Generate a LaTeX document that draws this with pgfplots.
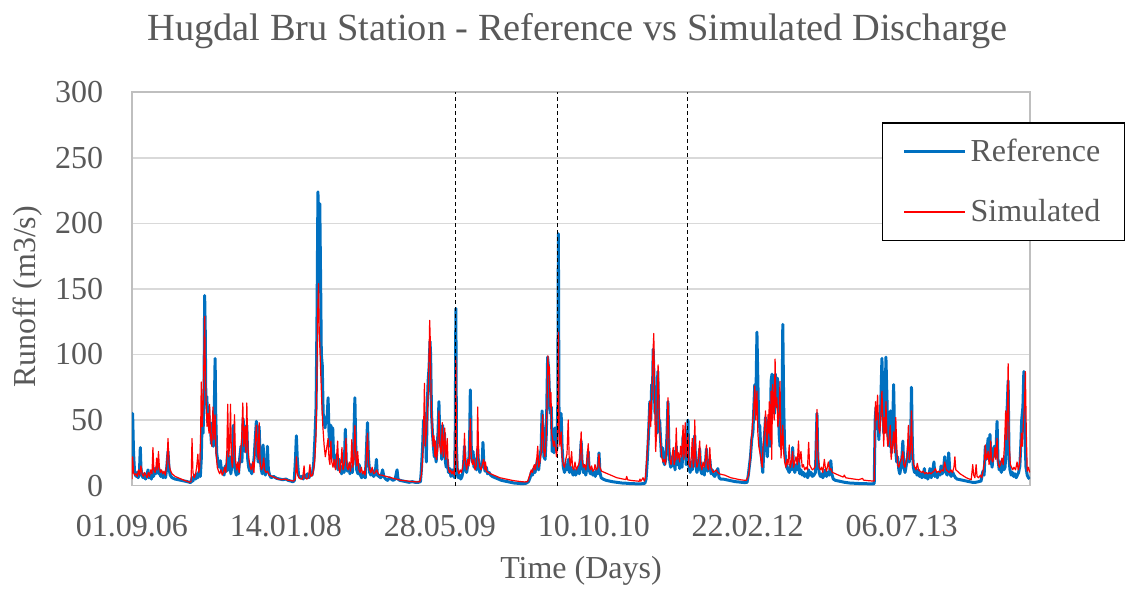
\documentclass[border=0pt]{standalone}
\usepackage{fontspec}
\setmainfont{Liberation Serif}
\usepackage{pgfplots}
\pgfplotsset{compat=1.18}
\definecolor{refblue}{HTML}{0070C0}
\definecolor{simred}{HTML}{FF0000}
\definecolor{textgray}{HTML}{595959}
\definecolor{gridgray}{HTML}{D9D9D9}
\definecolor{axisgray}{HTML}{BFBFBF}
\begin{document}
\begin{tikzpicture}
\useasboundingbox (0,0) rectangle (563pt,295pt);
\begin{axis}[
  at={(66pt,52.2pt)}, anchor=south west,
  scale only axis, width=449pt, height=196.7pt,
  xmin=0, xmax=2917, ymin=0, ymax=300,
  xtick={0,500,1000,1500,2000,2500},
  xticklabels={01.09.06,14.01.08,28.05.09,10.10.10,22.02.12,06.07.13},
  ytick={0,50,...,300},
  ymajorgrids, major grid style={gridgray, line width=0.75pt},
  axis line style={axisgray, line width=0.75pt},
  tick style={draw=none},
  /pgf/number format/assume math mode=true,
  ticklabel style={font=\fontsize{16}{19}\selectfont, text=textgray},
  xticklabel style={inner sep=0pt, yshift=-14.5pt},
  yticklabel style={inner sep=0pt, xshift=-14.2pt},
  title={Hugdal Bru Station - Reference vs Simulated Discharge},
  title style={at={(axis description cs:0.5,1)}, anchor=base, yshift=20pt, xshift=-1.75pt, font=\fontsize{19.2}{23}\selectfont, text=textgray},
  xlabel={Time (Days)},
  xlabel style={at={(axis description cs:0.5,0)}, anchor=base, yshift=-46.5pt, font=\fontsize{16}{19}\selectfont, text=textgray},
  ylabel={Runoff (m3/s)},
  ylabel style={at={(axis description cs:-0.108,0.48)}, anchor=base, font=\fontsize{16}{19}\selectfont, text=textgray},
  legend style={at={(0.835,0.924)}, anchor=north west, draw=black, line width=0.75pt, fill=white,
    font=\fontsize{16}{19}\selectfont, text=textgray, inner xsep=10pt, inner ysep=6pt, row sep=13.5pt},
  legend cell align=left,
  legend image code/.code={\path (0pt,0pt) -- (4.5pt,0pt); \draw[#1, line cap=butt] (4.5pt,0pt) -- (30.5pt,0pt);},
]
\addplot[refblue, line width=1.5pt, line join=round] coordinates {
(0,22)(2,55)(5,25)(8,12)(11,8)(14,7)(17,10)(20,6)(24,9)(27,29)(29,14)(32,8)(36,6)(40,9)(44,5)(48,7)(52,12)(55,6)(59,8)(63,5)(67,11)(70,7)(74,13)(77,9)(80,12)(84,16)(87,9)(90,12)(93,7)(97,10)(101,6)(105,9)(109,6)(113,14)(117,26)(120,14)(124,8)(130,6)(140,5)(150,4.5)(160,4)(170,3.5)(180,3)(187,2.5)(192,2.5)(195,6)(198,3.5)(203,8)(207,5)(211,9)(214,6)(218,11)(222,7)(225,20)(228,52)(231,40)(234,75)(236,145)(238,118)(240,62)(243,68)(246,48)(249,60)(252,42)(255,44)(258,32)(261,48)(264,30)(267,55)(270,97)(272,55)(275,25)(279,18)(283,14)(287,19)(291,11)(295,13)(299,8)(303,15)(307,11)(311,26)(314,12)(318,22)(321,9)(325,16)(329,46)(332,22)(335,12)(339,8)(343,14)(346,9)(350,21)(354,30)(357,18)(361,51)(364,40)(367,26)(370,33)(373,46)(376,20)(379,14)(383,11)(386,16)(389,9)(393,13)(397,22)(400,34)(404,49)(407,25)(410,18)(413,45)(416,22)(420,12)(423,9)(426,31)(429,14)(433,8)(437,12)(440,30)(443,12)(447,8)(452,6)(460,7)(470,5.5)(480,5)(490,4.5)(500,5)(507,4)(515,3.5)(522,3)(527,3.5)(531,20)(534,38)(537,20)(541,8)(546,6)(551,7)(556,5)(560,8)(565,6)(570,9)(575,6)(580,10)(585,8)(590,16)(594,35)(598,60)(601,130)(604,224)(607,190)(610,215)(613,150)(615,100)(618,92)(621,55)(624,50)(627,44)(630,52)(633,48)(637,67)(640,40)(643,30)(646,46)(649,26)(652,44)(655,22)(658,18)(662,14)(666,24)(669,12)(673,20)(677,13)(681,9)(685,15)(689,10)(693,43)(696,18)(700,11)(704,16)(708,9)(712,14)(716,10)(720,30)(724,67)(727,28)(730,12)(734,9)(738,16)(742,8)(746,6)(750,9)(754,7)(758,6)(762,30)(765,48)(768,22)(772,10)(776,8)(780,12)(785,7)(790,9)(794,20)(797,8)(802,7)(808,6)(814,12)(818,7)(824,5)(830,4)(836,6)(842,5)(848,4)(855,5)(861,12)(864,5)(870,4)(880,3.5)(890,3)(900,2.5)(910,3)(920,2.5)(930,2.5)(937,3)(940,12)(944,30)(947,50)(950,40)(953,55)(956,18)(959,60)(962,80)(965,90)(968,110)(970,100)(973,55)(976,40)(979,30)(982,22)(985,26)(988,18)(991,30)(994,40)(997,64)(1000,35)(1003,40)(1006,20)(1009,46)(1012,22)(1015,40)(1018,18)(1021,14)(1024,20)(1028,10)(1032,13)(1036,7)(1040,12)(1044,8)(1048,6)(1050,40)(1052,135)(1054,30)(1057,10)(1060,6)(1064,8)(1068,5)(1072,7)(1076,12)(1080,30)(1083,14)(1087,10)(1091,16)(1095,22)(1097,40)(1099,73)(1102,30)(1105,18)(1108,26)(1111,14)(1115,20)(1119,12)(1123,28)(1126,15)(1130,10)(1134,14)(1138,20)(1140,33)(1143,16)(1147,11)(1151,14)(1155,9)(1160,10)(1165,8)(1170,7)(1180,6)(1190,5)(1200,4)(1210,3.5)(1220,3)(1230,2.5)(1240,2)(1250,1.8)(1260,1.6)(1270,1.5)(1280,1.8)(1288,3)(1293,6)(1297,10)(1301,8)(1305,13)(1309,10)(1313,14)(1317,20)(1321,12)(1325,22)(1329,28)(1332,57)(1335,45)(1338,22)(1342,20)(1346,40)(1350,98)(1353,90)(1356,70)(1359,55)(1362,60)(1365,26)(1368,36)(1371,25)(1374,44)(1377,30)(1380,28)(1383,60)(1385,192)(1387,60)(1390,40)(1394,55)(1397,30)(1401,14)(1405,10)(1409,16)(1413,12)(1417,20)(1421,10)(1425,14)(1429,11)(1433,8)(1437,12)(1441,8)(1445,10)(1449,14)(1453,9)(1456,20)(1459,34)(1462,18)(1466,10)(1470,13)(1474,8)(1478,14)(1482,26)(1485,12)(1489,9)(1493,12)(1497,8)(1501,10)(1505,7)(1509,12)(1513,9)(1517,25)(1520,10)(1524,6)(1530,5)(1540,4)(1550,3.5)(1560,3)(1575,2.5)(1590,2)(1605,1.8)(1620,1.5)(1635,1.4)(1650,1.3)(1660,1.5)(1666,1.8)(1670,5)(1674,20)(1678,40)(1682,64)(1685,50)(1688,77)(1691,75)(1693,104)(1696,80)(1699,55)(1702,62)(1705,40)(1708,87)(1711,50)(1714,50)(1717,35)(1720,22)(1723,29)(1727,18)(1730,16)(1734,20)(1738,40)(1741,64)(1744,30)(1747,18)(1750,14)(1754,22)(1757,15)(1761,26)(1764,12)(1768,30)(1771,16)(1775,24)(1779,13)(1783,20)(1787,14)(1790,38)(1793,22)(1797,38)(1800,16)(1803,22)(1806,50)(1809,15)(1813,10)(1817,18)(1820,12)(1824,22)(1828,38)(1831,16)(1835,10)(1839,14)(1844,28)(1847,12)(1851,9)(1855,13)(1859,8)(1863,18)(1866,28)(1870,11)(1874,16)(1877,20)(1881,9)(1885,12)(1889,8)(1893,7)(1897,9)(1903,13)(1907,6)(1912,5)(1920,5)(1930,4.5)(1940,4)(1950,3.5)(1960,3)(1970,2.8)(1980,2.5)(1990,2.3)(1998,2.5)(2002,8)(2005,14)(2009,22)(2013,35)(2017,41)(2020,60)(2023,77)(2026,55)(2030,117)(2033,80)(2036,45)(2039,46)(2042,30)(2046,18)(2049,10)(2052,25)(2055,40)(2058,52)(2061,30)(2064,22)(2067,50)(2070,40)(2073,30)(2076,80)(2079,85)(2081,80)(2084,60)(2087,55)(2090,85)(2093,60)(2096,82)(2099,78)(2102,40)(2105,30)(2108,55)(2111,40)(2114,123)(2117,60)(2120,30)(2123,20)(2127,14)(2131,12)(2135,10)(2139,16)(2143,12)(2146,29)(2149,14)(2153,10)(2157,16)(2161,12)(2165,20)(2169,9)(2173,12)(2177,8)(2181,10)(2185,7)(2190,9)(2195,6)(2198,12)(2202,8)(2206,10)(2210,7)(2215,8)(2220,10)(2225,55)(2228,20)(2232,10)(2236,7)(2240,9)(2244,6)(2248,8)(2252,12)(2256,7)(2260,10)(2265,8)(2270,19)(2273,9)(2278,5)(2285,4)(2295,3.5)(2305,3)(2315,2.5)(2330,2)(2345,1.8)(2360,1.6)(2375,1.5)(2390,1.4)(2405,1.3)(2411,1.5)(2414,50)(2417,60)(2420,45)(2423,55)(2426,35)(2429,50)(2432,60)(2436,97)(2439,70)(2442,40)(2446,55)(2449,98)(2452,70)(2455,40)(2458,35)(2461,30)(2464,57)(2467,25)(2470,35)(2474,77)(2477,40)(2480,30)(2484,18)(2487,22)(2491,12)(2494,9)(2498,14)(2501,22)(2504,34)(2507,15)(2511,10)(2514,14)(2518,20)(2522,30)(2525,18)(2529,28)(2532,75)(2535,30)(2538,14)(2542,10)(2546,12)(2550,8)(2554,12)(2558,7)(2562,9)(2566,6)(2570,8)(2574,13)(2577,6)(2581,9)(2585,5)(2589,8)(2592,13)(2596,6)(2600,9)(2605,18)(2608,7)(2612,9)(2616,6)(2620,10)(2625,8)(2628,15)(2632,9)(2636,12)(2640,22)(2644,10)(2648,8)(2653,25)(2657,9)(2661,7)(2666,10)(2670,8)(2675,6)(2680,5)(2690,4.5)(2700,4)(2710,3.5)(2720,3)(2730,2.5)(2740,2.5)(2750,3)(2758,3.5)(2764,11)(2768,8)(2772,30)(2775,20)(2778,28)(2781,36)(2784,22)(2787,39)(2790,20)(2794,14)(2798,28)(2802,30)(2806,22)(2810,49)(2813,20)(2817,12)(2820,18)(2824,10)(2828,20)(2832,12)(2836,14)(2840,30)(2843,60)(2846,80)(2849,20)(2852,12)(2856,8)(2860,10)(2864,7)(2868,9)(2872,6)(2876,8)(2880,10)(2884,15)(2887,30)(2890,50)(2894,60)(2897,87)(2900,40)(2904,14)(2908,8)(2912,6)(2916,5)
};
\addlegendentry{Reference}
\addplot[simred, line width=0.6pt, line join=round] coordinates {
(0,5)(2,22)(5,10)(9,8)(13,9)(17,7)(21,12)(25,8)(29,15)(33,9)(37,7)(41,10)(45,8)(49,6)(53,10)(57,7)(61,12)(65,9)(68,29)(71,12)(75,10)(78,14)(80,21)(83,12)(86,26)(89,14)(92,10)(96,12)(100,9)(104,11)(108,8)(112,14)(115,25)(117,36)(120,18)(124,12)(130,9)(140,7)(150,6)(160,5)(170,4)(180,3.2)(187,2.6)(192,3)(195,36)(198,10)(202,6)(206,8)(210,14)(214,24)(217,10)(220,14)(223,40)(225,79)(228,45)(231,60)(234,100)(236,129)(238,90)(241,62)(244,45)(247,55)(250,40)(252,62)(255,38)(259,30)(263,60)(266,35)(270,54)(273,25)(277,14)(281,11)(285,9)(289,12)(293,8)(297,10)(301,14)(305,10)(308,25)(311,62)(314,22)(317,30)(320,62)(323,20)(326,14)(330,28)(333,54)(336,20)(340,12)(344,18)(348,10)(352,22)(356,35)(360,63)(363,30)(367,45)(370,25)(373,63)(376,30)(380,20)(384,14)(388,12)(392,18)(396,10)(400,31)(404,46)(407,30)(410,20)(413,48)(416,18)(420,12)(424,14)(428,21)(431,12)(435,10)(440,11)(446,8)(455,7)(465,6)(475,5)(485,4.5)(495,5)(505,4.2)(515,3.8)(525,3.5)(531,5)(534,22)(537,10)(542,6)(548,5)(554,5)(559,15)(562,6)(568,5)(573,6)(578,16)(581,7)(586,8)(590,12)(594,20)(598,40)(601,90)(603,130)(606,154)(608,120)(611,100)(614,80)(617,60)(620,45)(624,31)(628,22)(632,28)(637,36)(640,20)(643,16)(646,34)(649,18)(653,14)(657,20)(661,12)(664,20)(668,34)(671,14)(675,10)(679,18)(682,29)(685,12)(689,16)(692,20)(695,36)(698,14)(702,12)(706,18)(710,11)(714,35)(717,14)(721,20)(724,46)(727,22)(730,15)(733,26)(737,12)(741,10)(745,14)(749,9)(753,11)(757,8)(761,20)(765,40)(768,18)(772,12)(776,10)(780,14)(785,9)(790,10)(795,12)(800,9)(806,8)(812,8)(818,7.5)(826,7)(834,6.5)(842,6)(850,5.5)(858,5)(866,4.5)(875,4)(885,3.8)(895,3.5)(905,3.2)(915,3)(925,2.8)(935,3)(940,8)(944,20)(947,40)(950,78)(953,30)(956,40)(959,50)(962,70)(965,100)(967,126)(969,110)(972,60)(975,45)(978,30)(981,38)(984,22)(986,34)(989,20)(993,28)(997,57)(1000,30)(1004,24)(1008,48)(1011,22)(1014,30)(1016,44)(1019,20)(1022,28)(1024,36)(1027,14)(1031,10)(1035,12)(1039,9)(1043,11)(1047,8)(1050,30)(1052,98)(1054,25)(1058,12)(1062,9)(1066,12)(1070,10)(1074,14)(1078,20)(1080,40)(1083,18)(1087,12)(1091,20)(1095,15)(1099,51)(1102,22)(1106,16)(1110,20)(1114,12)(1118,15)(1121,30)(1123,60)(1126,20)(1130,14)(1134,12)(1138,16)(1142,20)(1146,12)(1148,18)(1152,11)(1158,10)(1165,9)(1175,8)(1185,7)(1195,6)(1205,5.5)(1215,5)(1225,4.5)(1235,4)(1245,3.6)(1255,3.3)(1265,3)(1275,2.8)(1285,3)(1292,8)(1297,12)(1301,10)(1304,14)(1307,16)(1310,12)(1314,18)(1318,30)(1321,14)(1325,18)(1329,25)(1332,45)(1334,54)(1337,28)(1341,22)(1345,35)(1348,60)(1351,99)(1353,85)(1355,91)(1358,60)(1361,71)(1363,40)(1366,36)(1369,30)(1372,34)(1376,28)(1379,22)(1382,30)(1385,117)(1387,45)(1390,30)(1394,41)(1397,22)(1401,16)(1405,14)(1409,20)(1413,24)(1417,50)(1420,22)(1424,15)(1428,26)(1431,14)(1435,12)(1439,18)(1443,12)(1447,14)(1451,16)(1455,20)(1459,41)(1462,20)(1466,14)(1470,16)(1474,12)(1478,20)(1482,32)(1485,16)(1489,12)(1493,15)(1497,11)(1501,12)(1504,16)(1508,12)(1513,14)(1517,24)(1520,14)(1525,11)(1535,10)(1545,9)(1555,8)(1565,7)(1575,6)(1585,5.5)(1595,5)(1604,4.6)(1607,7)(1610,4.4)(1620,4)(1630,3.7)(1640,3.5)(1648,3.3)(1650,5)(1653,3.3)(1660,6)(1664,3.5)(1668,6)(1672,20)(1676,35)(1679,50)(1682,64)(1685,45)(1687,59)(1690,80)(1692,100)(1695,116)(1698,60)(1701,26)(1704,40)(1707,70)(1709,92)(1712,60)(1715,40)(1718,30)(1721,22)(1725,18)(1729,20)(1733,16)(1737,30)(1739,50)(1741,67)(1744,35)(1747,20)(1751,16)(1754,22)(1758,29)(1761,16)(1765,20)(1768,44)(1771,20)(1775,25)(1779,18)(1782,30)(1786,22)(1790,46)(1793,20)(1797,48)(1800,22)(1803,28)(1806,39)(1809,16)(1813,14)(1817,22)(1820,36)(1823,14)(1826,20)(1828,50)(1831,22)(1835,14)(1839,18)(1844,34)(1847,16)(1851,12)(1855,18)(1859,14)(1863,20)(1866,31)(1869,14)(1873,12)(1877,29)(1880,14)(1884,12)(1888,10)(1893,11)(1898,12)(1903,10)(1908,9)(1915,8.5)(1925,8)(1935,7)(1945,6)(1955,5.5)(1965,5)(1975,4.5)(1985,4.2)(1995,4)(2000,6)(2004,10)(2008,20)(2012,35)(2015,45)(2017,51)(2020,60)(2023,76)(2026,50)(2030,72)(2033,40)(2036,30)(2039,26)(2043,20)(2047,14)(2050,30)(2054,40)(2058,57)(2061,35)(2063,30)(2066,54)(2068,40)(2070,64)(2073,35)(2076,72)(2078,20)(2081,77)(2084,60)(2086,50)(2089,96.5)(2092,60)(2095,67)(2098,45)(2102,55)(2105,79.5)(2108,21)(2111,30)(2114,46)(2117,25)(2120,18)(2124,14)(2128,20)(2131,16)(2135,31)(2138,14)(2142,18)(2146,26)(2149,14)(2153,18)(2157,22)(2161,16)(2165,34)(2168,18)(2173,26)(2177,14)(2181,16)(2185,12)(2190,14)(2194,12)(2198,33)(2201,16)(2205,14)(2210,12)(2215,13)(2220,15)(2225,58)(2228,25)(2232,14)(2236,12)(2240,14)(2244,10)(2249,20)(2252,14)(2256,11)(2262,18)(2266,12)(2270,13)(2275,10)(2281,9.5)(2290,8.5)(2300,7.5)(2310,6.5)(2314,8)(2318,6)(2330,5.5)(2345,5)(2360,4.5)(2373,5.5)(2376,4.2)(2390,3.8)(2405,3.5)(2411,3.5)(2413,40)(2415,64)(2418,50)(2422,69)(2425,45)(2429,40)(2433,55)(2436,72)(2439,50)(2442,30)(2444,52)(2447,40)(2449,64)(2452,40)(2455,30)(2459,35)(2463,46)(2466,20)(2470,30)(2474,41)(2477,25)(2481,52)(2484,30)(2487,16)(2491,14)(2495,18)(2499,20)(2504,26)(2507,16)(2511,14)(2514,18)(2518,22)(2522,46)(2525,20)(2529,28)(2532,57)(2535,22)(2539,16)(2543,14)(2547,12)(2551,17)(2555,12)(2560,11)(2565,10)(2570,11)(2575,9)(2580,10)(2585,9)(2590,10)(2595,9)(2600,10)(2605,11)(2610,13)(2614,10)(2620,11)(2625,10)(2630,12)(2635,11)(2640,18)(2645,12)(2650,11)(2655,10)(2660,12)(2665,10)(2670,14)(2673,22)(2676,12)(2681,11)(2690,9)(2700,7.5)(2710,6)(2720,5)(2726,4.5)(2731,16)(2734,8)(2738,6)(2742,16)(2745,7)(2750,6)(2756,8)(2760,6)(2765,12)(2769,18)(2772,31)(2775,20)(2778,22)(2781,26)(2784,16)(2787,22)(2789,34)(2792,20)(2796,18)(2800,22)(2803,29)(2806,20)(2810,36)(2813,18)(2817,14)(2821,16)(2826,21)(2830,16)(2834,30)(2838,57)(2841,35)(2844,60)(2846,93)(2849,35)(2853,16)(2857,14)(2861,12)(2865,14)(2870,12)(2875,18)(2879,12)(2883,16)(2886,25)(2889,40)(2892,30)(2896,50)(2899,60)(2902,87)(2905,40)(2908,11)(2912,14)(2916,10)
};
\addlegendentry{Simulated}
\addplot[black, line width=0.6pt, dash pattern=on 2pt off 1.5pt, forget plot] coordinates {(1052,0) (1052,300)};
\addplot[black, line width=0.6pt, dash pattern=on 2pt off 1.5pt, forget plot] coordinates {(1383,0) (1383,300)};
\addplot[black, line width=0.6pt, dash pattern=on 2pt off 1.5pt, forget plot] coordinates {(1805,0) (1805,300)};
\end{axis}
\end{tikzpicture}
\end{document}
